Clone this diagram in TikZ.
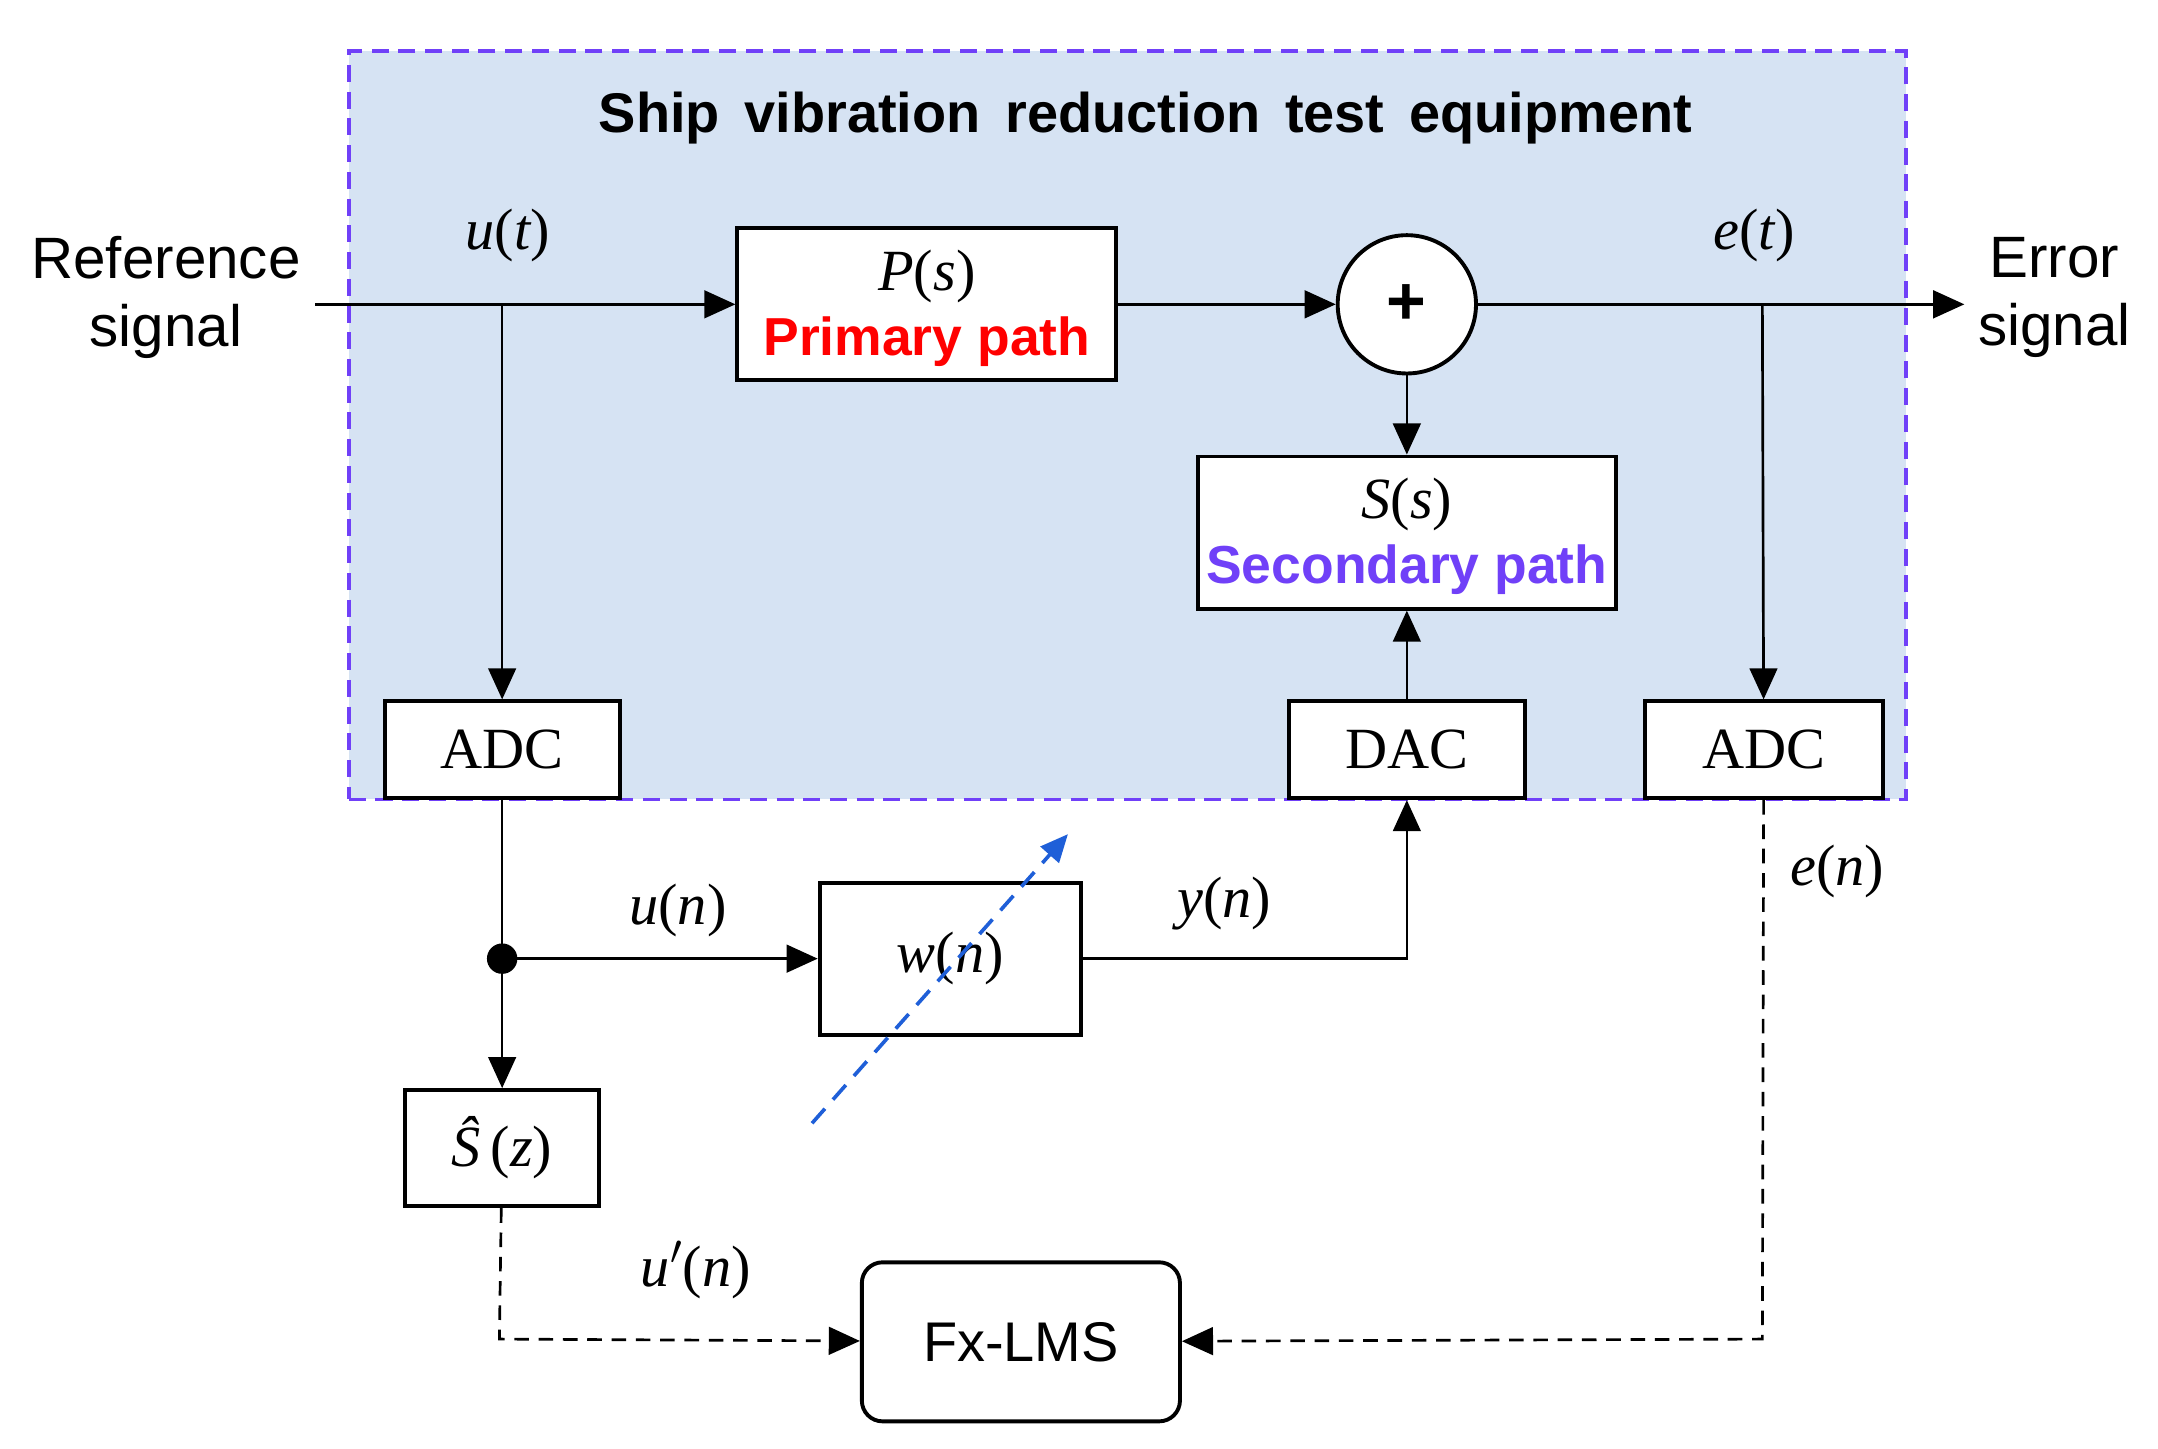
\documentclass[tikz,border=0pt]{standalone}
\usepackage{fontspec}
\setmainfont{Liberation Sans}
\newfontfamily\tms{Liberation Serif}
\usetikzlibrary{arrows.meta}
\definecolor{bgb}{HTML}{D6E3F3}
\definecolor{pur}{HTML}{7040F8}
\definecolor{dblue}{HTML}{1F5FD8}
\newcommand{\mi}[1]{{\tms\itshape #1}}
\newcommand{\mr}[1]{{\tms #1}}
\begin{document}
\begin{tikzpicture}[x=0.02cm,y=-0.02cm,
  every node/.style={font=\fontsize{24}{28}\selectfont},
  box/.style={draw,line width=1.6pt,fill=white,inner sep=0},
  ar/.style={line width=1.1pt,-{Triangle[length=0.45cm,width=0.4cm]}},
  ln/.style={line width=1.1pt},
  dsh/.style={line width=1.1pt,dash pattern=on 6pt off 4pt}]
\useasboundingbox (0,0) rectangle (1560,1047);
\node[draw=pur,fill=bgb,dash pattern=on 7pt off 4pt,line width=1.6pt,minimum width=22.52cm,minimum height=10.82cm] (frame) at (815,307.5) {};
\node (title) at (828,85) {\fontsize{23}{26}\selectfont\bfseries Ship\ \,vibration\ \,reduction\ \,test\ \,equipment};
\node[align=center] (ref) at (120,215) {Reference\\signal};
\node[align=center] (err) at (1485,215) {Error\\signal};
\node[box,minimum width=5.48cm,minimum height=2.2cm] (P) at (670,220) {};
\node (Pt) at (670,200) {\mi{P}\mr{(}\mi{s}\mr{)}};
\node[text=red] (Pl) at (670,247) {\fontsize{22}{26}\selectfont\bfseries Primary path};
\node[box,circle,minimum size=2cm] (sum) at (1017,220) {\fontsize{28}{30}\selectfont\textbf{+}};
\node[box,minimum width=6.04cm,minimum height=2.2cm] (S) at (1017,385) {};
\node (St) at (1017,365) {\mi{S}\mr{(}\mi{s}\mr{)}};
\node[text=pur] (Sl) at (1017,412) {\fontsize{22}{26}\selectfont\bfseries Secondary path};
\node[box,minimum width=3.4cm,minimum height=1.4cm] (adcl) at (363,542) {\mr{ADC}};
\node[box,minimum width=3.42cm,minimum height=1.4cm] (dac) at (1017,542) {\mr{DAC}};
\node[box,minimum width=3.44cm,minimum height=1.4cm] (adcr) at (1275,542) {\mr{ADC}};
\node[box,minimum width=3.78cm,minimum height=2.2cm] (w) at (687,693) {\mi{w}\mr{(}\mi{n}\mr{)}};
\node[box,minimum width=2.8cm,minimum height=1.68cm] (sh) at (363,830) {\mi{\^S}\,\mr{(}\mi{z}\mr{)}};
\node[box,rounded corners=0.3cm,minimum width=4.6cm,minimum height=2.3cm] (fx) at (738,970) {\fontsize{23}{26}\selectfont Fx-LMS};
\coordinate (in) at (228,220);
\coordinate (b1) at (363,220);
\coordinate (b2) at (1274,220);
\coordinate (out) at (1420,220);
\coordinate (dot) at (363,693);
\coordinate (c1) at (1017,693);
\coordinate (c2) at (361,968);
\coordinate (c3) at (1274,968);
\coordinate (bl1) at (587,812);
\coordinate (bl2) at (772,603);
\draw[ar] (in) -- (P);
\draw[ar] (P) -- (sum);
\draw[ar] (sum) -- (out);
\draw[ar] (b1) -- (adcl);
\draw[ar] (b2) -- (adcr);
\draw[ar] (sum) -- (S);
\draw[ar] (dac) -- (S);
\draw[ln] (adcl) -- (dot);
\fill (dot) circle (0.22cm);
\draw[ar] (dot) -- (sh);
\draw[ar] (dot) -- (w);
\draw[ar] (w) -- (c1) -- (dac);
\draw[dsh,-{Triangle[length=0.45cm,width=0.4cm]}] (sh) -- (c2) -- (fx);
\draw[dsh,-{Triangle[length=0.45cm,width=0.4cm]}] (adcr) -- (c3) -- (fx);
\draw[line width=1.5pt,dash pattern=on 8pt off 5pt,color=dblue,-{Triangle[length=0.4cm,width=0.35cm]}] (bl1) -- (bl2);
\node (ut) at (367,170) {\mi{u}\mr{(}\mi{t}\mr{)}};
\node (et) at (1268,170) {\mi{e}\mr{(}\mi{t}\mr{)}};
\node (un) at (490,658) {\mi{u}\mr{(}\mi{n}\mr{)}};
\node (yn) at (885,653) {\mi{y}\mr{(}\mi{n}\mr{)}};
\node (en) at (1328,630) {\mi{e}\mr{(}\mi{n}\mr{)}};
\node (upn) at (503,918) {\mi{u}\mr{$'$(}\mi{n}\mr{)}};
\end{tikzpicture}
\end{document}
